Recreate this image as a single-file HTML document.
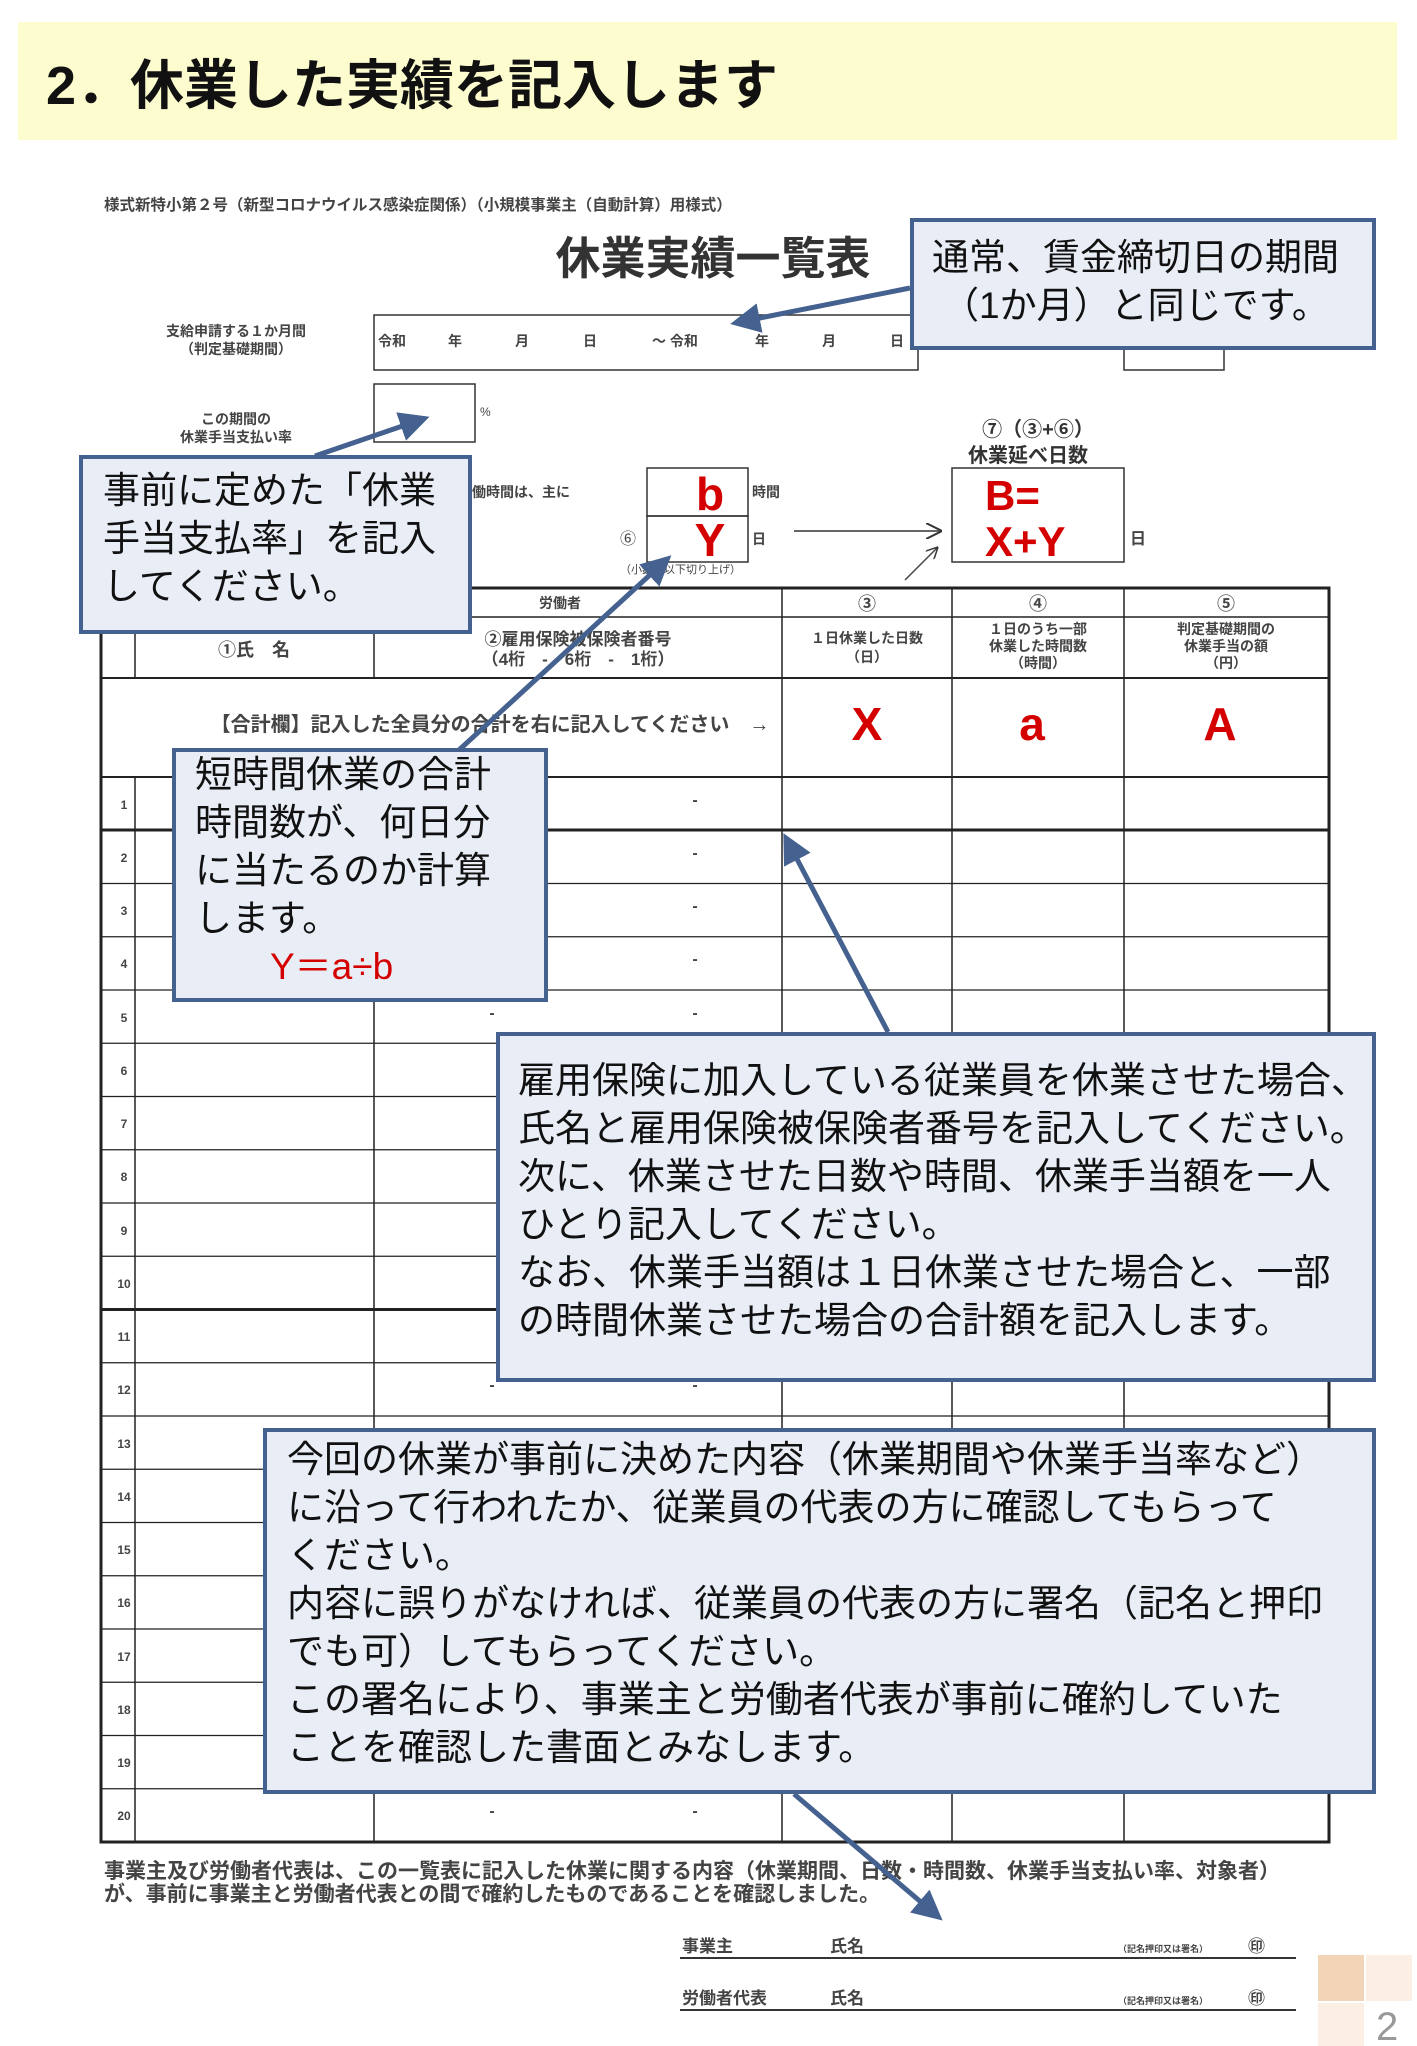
<!DOCTYPE html>
<html><head><meta charset="utf-8"><style>
html,body{margin:0;padding:0;background:#fff}
svg{display:block}
text{font-family:"Liberation Sans","Noto Sans CJK JP",sans-serif}
</style></head><body>
<svg width="1417" height="2046" viewBox="0 0 1417 2046" xmlns="http://www.w3.org/2000/svg">
<defs>
<marker id="ab" markerWidth="6" markerHeight="6" refX="4" refY="3" orient="auto" markerUnits="strokeWidth"><path d="M0,0 L6,3 L0,6 Z" fill="#44618f"/></marker>
<marker id="ak" markerWidth="8" markerHeight="8" refX="7" refY="4" orient="auto" markerUnits="strokeWidth"><path d="M0,0 L8,4 L0,8" fill="none" stroke="#333" stroke-width="1"/></marker>
</defs>
<rect x="18" y="22" width="1379" height="118" fill="#fdfccf"/>
<text x="46" y="104" font-size="54" font-weight="bold" fill="#111">2．休業した実績を記入します</text>

<text x="104" y="210" font-size="15.5" font-weight="bold" fill="#444">様式新特小第２号（新型コロナウイルス感染症関係）（小規模事業主（自動計算）用様式）</text>
<text x="713" y="274" font-size="45" font-weight="bold" fill="#333" text-anchor="middle">休業実績一覧表</text>

<text x="236" y="336" font-size="14" font-weight="bold" fill="#444" text-anchor="middle">支給申請する１か月間</text>
<text x="236" y="354" font-size="14" font-weight="bold" fill="#444" text-anchor="middle">（判定基礎期間）</text>
<rect x="374" y="315" width="544" height="55" fill="none" stroke="#333" stroke-width="1.5"/>
<g font-size="14" font-weight="bold" fill="#444">
<text x="378" y="346">令和</text><text x="448" y="346">年</text><text x="515" y="346">月</text><text x="583" y="346">日</text><text x="652" y="346">～ 令和</text><text x="755" y="346">年</text><text x="822" y="346">月</text><text x="890" y="346">日</text>
</g>
<path d="M1124,344 V370 H1224 V344" fill="none" stroke="#333" stroke-width="1.5"/>

<text x="236" y="424" font-size="14" font-weight="bold" fill="#444" text-anchor="middle">この期間の</text>
<text x="236" y="442" font-size="14" font-weight="bold" fill="#444" text-anchor="middle">休業手当支払い率</text>
<rect x="374" y="384" width="101" height="58" fill="none" stroke="#333" stroke-width="1.5"/>
<text x="480" y="416" font-size="12" fill="#444">%</text>

<text x="472" y="497" font-size="14" font-weight="bold" fill="#444">働時間は、主に</text>
<rect x="647" y="468" width="101" height="48" fill="none" stroke="#333" stroke-width="1.5"/>
<rect x="647" y="516" width="101" height="46" fill="none" stroke="#333" stroke-width="1.5"/>
<text x="710" y="510" font-size="46" font-weight="bold" fill="#d40000" text-anchor="middle">b</text>
<text x="710" y="556" font-size="46" font-weight="bold" fill="#d40000" text-anchor="middle">Y</text>
<text x="752" y="497" font-size="14" font-weight="bold" fill="#444">時間</text>
<text x="752" y="544" font-size="14" font-weight="bold" fill="#444">日</text>
<text x="620" y="544" font-size="16" fill="#444">⑥</text>
<text x="620" y="573" font-size="11" fill="#444">（小数点以下切り上げ）</text>

<text x="1038" y="436" font-size="20" font-weight="bold" fill="#333" text-anchor="middle">⑦（③+⑥）</text>
<text x="1028" y="462" font-size="20" font-weight="bold" fill="#333" text-anchor="middle">休業延べ日数</text>
<rect x="952" y="468" width="172" height="94" fill="none" stroke="#333" stroke-width="1.5"/>
<text x="985" y="510" font-size="42" font-weight="bold" fill="#d40000">B=</text>
<text x="985" y="556" font-size="42" font-weight="bold" fill="#d40000">X+Y</text>
<text x="1130" y="544" font-size="16" font-weight="bold" fill="#444">日</text>
<line x1="794" y1="531" x2="940" y2="531" stroke="#666" stroke-width="2" marker-end="url(#ak)"/>
<line x1="905" y1="580" x2="937" y2="548" stroke="#444" stroke-width="1.5" marker-end="url(#ak)"/>

<!-- table -->
<g stroke="#222" fill="none">
<rect x="101" y="588" width="1228" height="1254" stroke-width="3"/>
<line x1="101" y1="617" x2="1329" y2="617" stroke-width="1.5"/>
<line x1="101" y1="678" x2="1329" y2="678" stroke-width="2"/>
<line x1="101" y1="777" x2="1329" y2="777" stroke-width="2"/>
<line x1="135" y1="617" x2="135" y2="678" stroke-width="1.5"/>
<line x1="374" y1="617" x2="374" y2="678" stroke-width="1.5"/>
<line x1="782" y1="588" x2="782" y2="1842" stroke-width="1.5"/>
<line x1="952" y1="588" x2="952" y2="1842" stroke-width="1.5"/>
<line x1="1124" y1="588" x2="1124" y2="1842" stroke-width="1.5"/>
<line x1="135" y1="777" x2="135" y2="1842" stroke-width="1.5"/>
<line x1="374" y1="777" x2="374" y2="1842" stroke-width="1.5"/>
<g stroke-width="1.2">
<line x1="101" y1="830" x2="1329" y2="830" stroke-width="3"/>
<line x1="101" y1="883.5" x2="1329" y2="883.5"/>
<line x1="101" y1="936.75" x2="1329" y2="936.75"/>
<line x1="101" y1="990" x2="1329" y2="990"/>
<line x1="101" y1="1043.25" x2="1329" y2="1043.25"/>
<line x1="101" y1="1096.5" x2="1329" y2="1096.5"/>
<line x1="101" y1="1149.75" x2="1329" y2="1149.75"/>
<line x1="101" y1="1203" x2="1329" y2="1203"/>
<line x1="101" y1="1256.25" x2="1329" y2="1256.25"/>
<line x1="101" y1="1309.5" x2="1329" y2="1309.5" stroke-width="3"/>
<line x1="101" y1="1362.75" x2="1329" y2="1362.75"/>
<line x1="101" y1="1416" x2="1329" y2="1416"/>
<line x1="101" y1="1469.25" x2="1329" y2="1469.25"/>
<line x1="101" y1="1522.5" x2="1329" y2="1522.5"/>
<line x1="101" y1="1575.75" x2="1329" y2="1575.75"/>
<line x1="101" y1="1629" x2="1329" y2="1629"/>
<line x1="101" y1="1682.25" x2="1329" y2="1682.25"/>
<line x1="101" y1="1735.5" x2="1329" y2="1735.5"/>
<line x1="101" y1="1788.75" x2="1329" y2="1788.75"/>
</g>
</g>
<g font-size="14" font-weight="bold" fill="#444" text-anchor="middle">
<text x="560" y="608">労働者</text>
<text x="867" y="610" font-size="18">③</text><text x="1038" y="610" font-size="18">④</text><text x="1226" y="610" font-size="18">⑤</text>
<text x="254" y="656" font-size="18">①氏　名</text>
<text x="578" y="645" font-size="17">②雇用保険被保険者番号</text>
<text x="578" y="665" font-size="17">（4桁　-　6桁　-　1桁）</text>
<text x="867" y="643">１日休業した日数</text><text x="867" y="662">（日）</text>
<text x="1038" y="634">１日のうち一部</text><text x="1038" y="651">休業した時間数</text><text x="1038" y="668">（時間）</text>
<text x="1226" y="634">判定基礎期間の</text><text x="1226" y="651">休業手当の額</text><text x="1226" y="668">（円）</text>
<text x="490" y="731" font-size="20">【合計欄】記入した全員分の合計を右に記入してください　→</text>
</g>
<g font-size="46" font-weight="bold" fill="#d40000" text-anchor="middle">
<text x="867" y="740">X</text><text x="1032" y="740">a</text><text x="1220" y="740">A</text>
</g>
<g font-size="12" font-weight="bold" fill="#444" text-anchor="middle">
<text x="124" y="809">1</text><text x="124" y="862">2</text><text x="124" y="915">3</text><text x="124" y="968">4</text><text x="124" y="1022">5</text><text x="124" y="1075">6</text><text x="124" y="1128">7</text><text x="124" y="1181">8</text><text x="124" y="1235">9</text><text x="124" y="1288">10</text><text x="124" y="1341">11</text><text x="124" y="1394">12</text><text x="124" y="1448">13</text><text x="124" y="1501">14</text><text x="124" y="1554">15</text><text x="124" y="1607">16</text><text x="124" y="1661">17</text><text x="124" y="1714">18</text><text x="124" y="1767">19</text><text x="124" y="1820">20</text>
</g>
<g font-size="16" font-weight="bold" fill="#444" text-anchor="middle">
<text x="695" y="805">-</text><text x="695" y="858">-</text><text x="695" y="911">-</text><text x="695" y="964">-</text><text x="492" y="1018">-</text><text x="695" y="1018">-</text><text x="492" y="1390">-</text><text x="695" y="1390">-</text><text x="492" y="1816">-</text><text x="695" y="1816">-</text>
</g>

<g font-size="21" font-weight="bold" fill="#444">
<text x="104" y="1878">事業主及び労働者代表は、この一覧表に記入した休業に関する内容（休業期間、日数・時間数、休業手当支払い率、対象者）</text>
<text x="104" y="1901">が、事前に事業主と労働者代表との間で確約したものであることを確認しました。</text>
</g>
<g font-size="17" font-weight="bold" fill="#444">
<text x="682" y="1952">事業主</text><text x="830" y="1952">氏名</text>
<text x="682" y="2004">労働者代表</text><text x="830" y="2004">氏名</text>
<text x="1118" y="1952" font-size="9">（記名押印又は署名）</text><text x="1248" y="1952">㊞</text>
<text x="1118" y="2004" font-size="9">（記名押印又は署名）</text><text x="1248" y="2004">㊞</text>
</g>
<line x1="680" y1="1958" x2="1296" y2="1958" stroke="#333" stroke-width="2"/>
<line x1="680" y1="2010" x2="1296" y2="2010" stroke="#333" stroke-width="2"/>

<rect x="1318" y="1955" width="46" height="46" fill="#f2d4b6"/>
<rect x="1366" y="1955" width="46" height="46" fill="#fbefe5"/>
<rect x="1318" y="2003" width="46" height="43" fill="#fbefe5"/>
<text x="1376" y="2040" font-size="40" fill="#999">2</text>

<!-- callouts -->
<g stroke="#44618f" stroke-width="4" fill="#e8edf6">
<rect x="912" y="220" width="462" height="128"/>
<rect x="81" y="457" width="389" height="175"/>
<rect x="174" y="750" width="372" height="250"/>
<rect x="498" y="1034" width="876" height="346"/>
<rect x="265" y="1430" width="1109" height="362"/>
</g>
<g stroke="#44618f" stroke-width="5" fill="none" marker-end="url(#ab)">
<line x1="910" y1="288" x2="740" y2="322"/>
<line x1="315" y1="456" x2="420" y2="420"/>
<line x1="459" y1="750" x2="664" y2="562"/>
<line x1="888" y1="1032" x2="788" y2="842"/>
<line x1="794" y1="1794" x2="935" y2="1914"/>
</g>
<g font-size="37" fill="#111">
<text x="932" y="270">通常、賃金締切日の期間</text>
<text x="942" y="318">（1か月）と同じです。</text>
<text x="103" y="503">事前に定めた「休業</text>
<text x="103" y="551">手当支払率」を記入</text>
<text x="103" y="599">してください。</text>
<text x="195" y="787">短時間休業の合計</text>
<text x="195" y="835">時間数が、何日分</text>
<text x="195" y="883">に当たるのか計算</text>
<text x="195" y="931">します。</text>
<text x="270" y="979" fill="#d40000">Y＝a÷b</text>
<text x="518" y="1093">雇用保険に加入している従業員を休業させた場合、</text>
<text x="518" y="1141">氏名と雇用保険被保険者番号を記入してください。</text>
<text x="518" y="1189">次に、休業させた日数や時間、休業手当額を一人</text>
<text x="518" y="1237">ひとり記入してください。</text>
<text x="518" y="1285">なお、休業手当額は１日休業させた場合と、一部</text>
<text x="518" y="1333">の時間休業させた場合の合計額を記入します。</text>
<text x="287" y="1472">今回の休業が事前に決めた内容（休業期間や休業手当率など）</text>
<text x="287" y="1520">に沿って行われたか、従業員の代表の方に確認してもらって</text>
<text x="287" y="1568">ください。</text>
<text x="287" y="1616">内容に誤りがなければ、従業員の代表の方に署名（記名と押印</text>
<text x="287" y="1664">でも可）してもらってください。</text>
<text x="287" y="1712">この署名により、事業主と労働者代表が事前に確約していた</text>
<text x="287" y="1760">ことを確認した書面とみなします。</text>
</g>
</svg>
</body></html>
